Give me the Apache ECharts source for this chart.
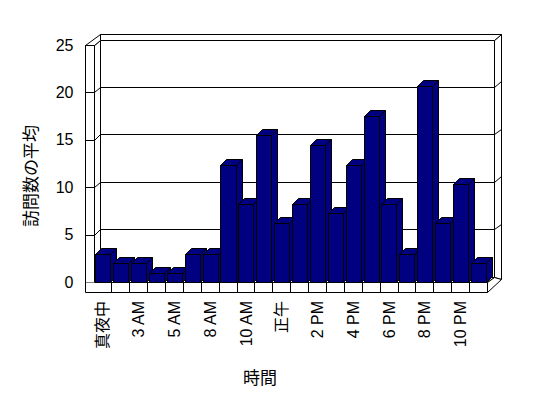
<!DOCTYPE html>
<html>
<head>
<meta charset="utf-8">
<script src="https://cdn.jsdelivr.net/npm/echarts@6/dist/echarts.min.js"></script>
<style>html,body{margin:0;padding:0;background:#fff}#c{width:548px;height:398px}</style>
</head>
<body>
<div id="c"></div>
<script>
const categories = ["真夜中","1 AM","3 AM","4 AM","5 AM","7 AM","8 AM","9 AM","10 AM","11 AM","正午","1 PM","2 PM","3 PM","4 PM","5 PM","6 PM","7 PM","8 PM","9 PM","10 PM","11 PM"];
const visits = [3, 2, 2, 1, 1, 3, 3, 12.3, 8.2, 15.5, 6.2, 8.2, 14.4, 7.3, 12.3, 17.5, 8.2, 3, 20.7, 6.2, 10.3, 2];
const yTicks = [0, 5, 10, 15, 20, 25];
const yTitle = "訪問数の平均";
const xTitle = "時間";

const FONT = "'Liberation Sans', 'Noto Sans CJK JP', sans-serif";
const NAVY = '#000080';
const r = v => Math.round(v) + 0.5;
const WHITE = {fill: '#fff', stroke: '#000', lineWidth: 1};

function poly(points, style) {
  return {type: 'polygon', shape: {points: points.map(p => [r(p[0]), r(p[1])])}, style: style};
}
function line(x1, y1, x2, y2) {
  return {type: 'line', shape: {x1: r(x1), y1: r(y1), x2: r(x2), y2: r(y2)}, style: {stroke: '#000', lineWidth: 1}};
}

function renderFrame(params, api) {
  const band = api.size([1, 0])[0];
  const L = api.coord([0, 0])[0] - band / 2;
  const R = api.coord([categories.length - 1, 0])[0] + band / 2;
  const Y0 = api.coord([0, yTicks[0]])[1];
  const Ytop = api.coord([0, yTicks[yTicks.length - 1]])[1];
  const dx = 6.5, dy = -5.5;
  const tx = 7.4, ty = -5.5;
  const wt = 9, ft = 9.7;
  const ch = [];
  ch.push(poly([[R + dx, Ytop + dy], [R + dx + tx, Ytop + dy + ty], [R + dx + tx, Y0 - 2.7], [R + dx, Y0 + dy]], WHITE));
  ch.push(poly([[L + dx, Ytop + dy], [R + dx, Ytop + dy], [R + dx + tx, Ytop + dy + ty], [L + dx, Ytop + dy + ty]], WHITE));
  ch.push(poly([[L + dx, Ytop + dy], [R + dx, Ytop + dy], [R + dx, Y0 + dy], [L + dx, Y0 + dy]], WHITE));
  ch.push(poly([[L, Ytop], [L + dx, Ytop + dy], [L + dx, Y0 + dy], [L, Y0]], WHITE));
  ch.push(poly([[L - wt, Ytop], [L, Ytop], [L + dx, Ytop + dy], [L + dx, Ytop + dy + ty]], WHITE));
  ch.push(poly([[L - wt, Ytop], [L, Ytop], [L, Y0], [L - wt, Y0]], WHITE));
  for (let i = 1; i < yTicks.length - 1; i++) {
    const y = api.coord([0, yTicks[i]])[1];
    ch.push(line(L - wt, y, L, y));
    ch.push(line(L, y, L + dx, y + dy));
    ch.push(line(L + dx, y + dy, R + dx, y + dy));
    ch.push(line(R + dx, y + dy, R + dx + tx, y + dy + ty));
  }
  ch.push(poly([[L, Y0], [R, Y0], [R + dx, Y0 + dy], [L + dx, Y0 + dy]], WHITE));
  ch.push(poly([[R, Y0], [R + dx, Y0 + dy], [R + dx + tx, Y0 - 2.7], [R, Y0 + ft]], WHITE));
  ch.push(poly([[L - wt, Y0], [R, Y0], [R, Y0 + ft], [L - wt, Y0 + ft]], {fill: '#fff', stroke: null}));
  ch.push(line(L - wt, Ytop, L - wt, Y0 + ft));
  ch.push(line(L - wt, Y0 + ft, R, Y0 + ft));
  ch.push(line(L, Y0, R, Y0));
  ch.push(line(R, Y0, R, Y0 + ft));
  for (let k = 1; k < categories.length; k++) {
    const x = L + k * band;
    ch.push(line(x, Y0, x, Y0 + ft));
  }
  return {type: 'group', children: ch};
}

function renderLabel(params, api) {
  const idx = api.value(0);
  const p = api.coord([idx, 0]);
  return {type: 'text', x: Math.round(p[0]), y: Math.round(p[1] + 19), rotation: Math.PI / 2,
    style: {text: categories[idx], fill: '#000', font: "16px " + FONT,
            align: 'right', verticalAlign: 'middle', textAlign: 'right', textVerticalAlign: 'middle'}};
}

function renderBar(params, api) {
  const idx = api.value(0);
  const top = api.coord([idx, api.value(1)]);
  const base = api.coord([idx, 0]);
  const band = api.size([1, 0])[0];
  const x0 = top[0] - band / 2 + band * 0.1;
  const x1 = x0 + band * 0.84;
  const yt = top[1], yb = base[1];
  const d = 6;
  const st = {fill: NAVY, stroke: '#000', lineWidth: 1};
  return {type: 'group', children: [
    poly([[x1, yt], [x1 + d, yt - d], [x1 + d, yb - d], [x1, yb]], st),
    poly([[x0, yt], [x1, yt], [x1 + d, yt - d], [x0 + d, yt - d]], st),
    poly([[x0, yt], [x1, yt], [x1, yb], [x0, yb]], st)
  ]};
}

const labelIdx = categories.map((c, i) => i).filter(i => i % 2 === 0);

const chart = echarts.init(document.getElementById('c'), null, {renderer: 'svg'});
chart.setOption({
  animation: false,
  backgroundColor: '#fff',
  grid: {left: 93.5, right: 61, top: 45, bottom: 116, containLabel: false},
  xAxis: {
    type: 'category', data: categories, boundaryGap: true,
    axisLine: {show: false}, axisTick: {show: false}, splitLine: {show: false},
    axisLabel: {show: false}
  },
  yAxis: {
    type: 'value', min: yTicks[0], max: yTicks[yTicks.length - 1], interval: 5,
    axisLine: {show: false}, axisTick: {show: false}, splitLine: {show: false},
    axisLabel: {margin: 20, color: '#000', fontSize: 16, fontFamily: FONT}
  },
  graphic: [
    {type: 'text', x: 29, y: 176, rotation: Math.PI / 2,
     style: {text: yTitle, fill: '#000', font: "17px 'Noto Sans CJK JP', sans-serif", textAlign: 'center', textVerticalAlign: 'middle'}},
    {type: 'text', x: 260, y: 376,
     style: {text: xTitle, fill: '#000', font: "17px 'Noto Sans CJK JP', sans-serif", textAlign: 'center', textVerticalAlign: 'middle'}}
  ],
  series: [
    {type: 'custom', renderItem: renderFrame, data: [[0, 0]], clip: false, silent: true, z: 1},
    {type: 'custom', renderItem: renderBar, data: visits.map((v, i) => [i, v]), encode: {x: 0, y: 1}, clip: false, silent: true, z: 2},
    {type: 'custom', renderItem: renderLabel, data: labelIdx.map(i => [i, 0]), encode: {x: 0, y: 1}, clip: false, silent: true, z: 3}
  ]
});
</script>
</body>
</html>
